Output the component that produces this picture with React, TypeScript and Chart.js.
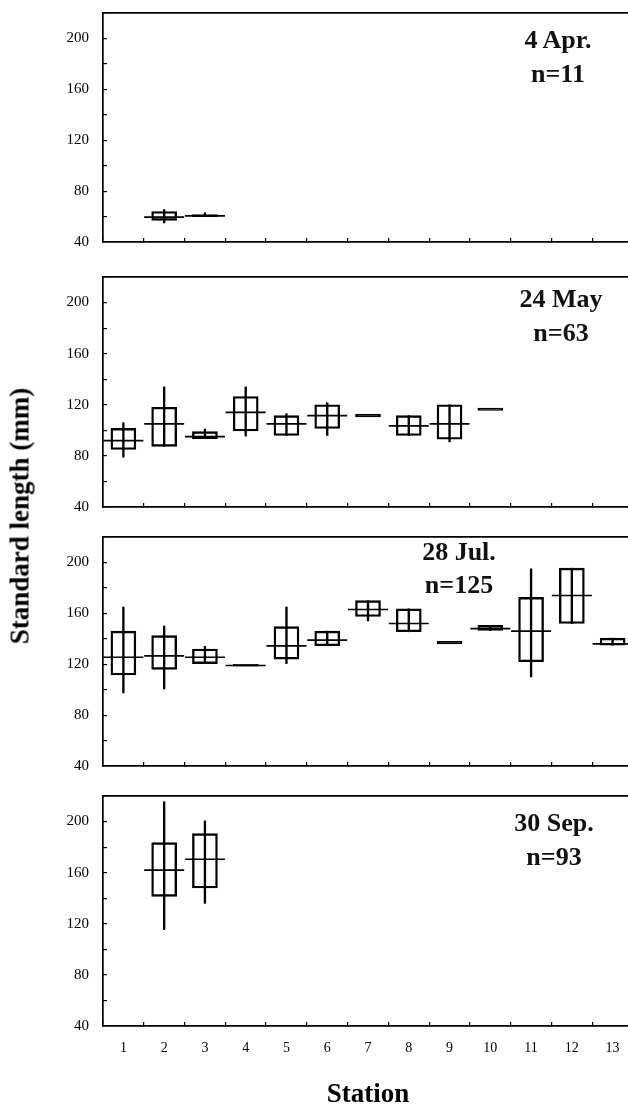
import React, { useEffect, useRef } from 'react';
import { Chart, registerables } from 'chart.js';

Chart.register(...registerables);

// ---------- data ----------
const stations = ['1', '2', '3', '4', '5', '6', '7', '8', '9', '10', '11', '12', '13'];
const _ = null;

// 4 Apr.
const aprMin = [_, 55, 60, _, _, _, _, _, _, _, _, _, _];
const aprQ1 = [_, 57, 60, _, _, _, _, _, _, _, _, _, _];
const aprMed = [_, 59.5, 60.5, _, _, _, _, _, _, _, _, _, _];
const aprQ3 = [_, 64, 61.5, _, _, _, _, _, _, _, _, _, _];
const aprMax = [_, 65.5, 63, _, _, _, _, _, _, _, _, _, _];

// 24 May
const mayMin = [79, 87.5, 93.5, 95.5, 96, 96, _, 96, 91, _, _, _, _];
const mayQ1 = [85, 87.5, 93.5, 99.5, 96, 101.5, 110.5, 96, 93, 115.5, _, _, _];
const mayMed = [92, 105, 95, 114, 105, 111.5, _, 103.5, 105, _, _, _, _];
const mayQ3 = [101.5, 118, 99, 126.5, 111.5, 120, 112.5, 111.5, 120, 117.5, _, _, _];
const mayMax = [106, 134, 101, 134, 113, 121.5, _, 111.5, 120, _, _, _, _];

// 28 Jul.
const julMin = [97.5, 100.5, 120.5, _, 120.5, 134.5, 154, 145.5, _, 146.5, 110, 152, 135];
const julQ1 = [111.5, 116, 120.5, 118.5, 124, 134.5, 157.5, 145.5, 136, 146.5, 122, 152, 135];
const julMed = [125.5, 126.5, 125.5, 119, 134.5, 139, 163, 152, _, 148, 146, 174, 136];
const julQ3 = [146, 142.5, 132, 120, 149.5, 146, 170, 163.5, 138, 150.5, 172.5, 195.5, 140.5];
const julMax = [165, 150, 134, _, 165, 146, 170, 163.5, _, 150.5, 195, 195.5, 140.5];

// 30 Sep.
const sepMin = [_, 115.5, 136, _, _, _, _, _, _, _, _, _, _];
const sepQ1 = [_, 141.5, 148, _, _, _, _, _, _, _, _, _, _];
const sepMed = [_, 162, 170.5, _, _, _, _, _, _, _, _, _, _];
const sepQ3 = [_, 183.5, 190.5, _, _, _, _, _, _, _, _, _, _];
const sepMax = [_, 215.5, 200.5, _, _, _, _, _, _, _, _, _, _];

const dates = ['4 Apr.', '24 May', '28 Jul.', '30 Sep.'];
const counts = ['n=11', 'n=63', 'n=125', 'n=93'];

const yMin = 40;
const yMax = 220;
const yStep = 20;
const yLabelStep = 40;
const yLabelMax = 200;

const xTitle = 'Station';
const yTitle = 'Standard length (mm)';

type Series = { min: (number | null)[]; q1: (number | null)[]; med: (number | null)[]; q3: (number | null)[]; max: (number | null)[] };

const panels: Series[] = [
  { min: aprMin, q1: aprQ1, med: aprMed, q3: aprQ3, max: aprMax },
  { min: mayMin, q1: mayQ1, med: mayMed, q3: mayQ3, max: mayMax },
  { min: julMin, q1: julQ1, med: julMed, q3: julQ3, max: julMax },
  { min: sepMin, q1: sepQ1, med: sepMed, q3: sepQ3, max: sepMax },
];

// ---------- layout ----------
const PANEL_TOP = [13, 277, 537, 796];
const PANEL_H = [229, 230, 229, 230];
const PAD_TOP = 13;
const CANVAS_W = 640;
const AXIS_LEFT = 103;
const LAST_AXIS_H = 83;
const LABEL_POS = [
  [558, 40, 74],
  [561, 299, 333],
  [459, 552, 585],
  [554, 823, 857],
];
const THIN_BOX = 2.5; // boxes thinner than this are drawn as a solid bar

const SERIF = '"Liberation Serif", "Times New Roman", serif';

function makeConfig(p: Series, isLast: boolean): any {
  const boxData = p.q1.map((v, i) => (v == null ? null : [v, p.q3[i]]));
  const whiskerData = p.min.map((v, i) => (v == null ? null : [v, p.max[i]]));
  return {
    type: 'bar',
    data: {
      labels: stations,
      datasets: [
        {
          type: 'line',
          data: p.med,
          showLine: false,
          pointStyle: 'line',
          pointRadius: 20,
          pointHoverRadius: 20,
          pointBorderWidth: 1.7,
          pointBorderColor: '#000',
          borderColor: '#000',
          backgroundColor: '#000',
          clip: false,
          order: 0,
        },
        {
          type: 'bar',
          data: boxData,
          backgroundColor: (ctx: any) => {
            const r = ctx.raw;
            return r && Math.abs(r[1] - r[0]) < THIN_BOX ? '#000' : 'rgba(0,0,0,0)';
          },
          borderColor: '#000',
          borderWidth: 1.7,
          borderSkipped: false,
          barThickness: 25,
          grouped: false,
          order: 1,
        },
        {
          type: 'bar',
          data: whiskerData,
          backgroundColor: '#000',
          borderWidth: 0,
          barThickness: 1.7,
          grouped: false,
          order: 2,
        },
      ],
    },
    options: {
      responsive: false,
      animation: false,
      devicePixelRatio: 1,
      events: [],
      layout: { autoPadding: false, padding: { top: PAD_TOP, right: 7, left: 0, bottom: 0 } },
      plugins: { legend: { display: false }, tooltip: { enabled: false } },
      scales: {
        x: {
          type: 'category',
          position: 'bottom',
          offset: true,
          grid: {
            display: true,
            drawOnChartArea: false,
            drawTicks: true,
            tickLength: -4,
            color: '#000',
            lineWidth: 1.2,
            offset: true,
          },
          border: { display: true, color: '#000', width: 1.7 },
          ticks: {
            display: isLast,
            color: '#000',
            font: { family: SERIF, size: 14 },
            padding: 18,
            maxRotation: 0,
            autoSkip: false,
          },
          title: {
            display: isLast,
            text: xTitle,
            color: '#000',
            font: { family: SERIF, size: 27, weight: 'bold', lineHeight: 1 },
            padding: { top: 0, bottom: 0 },
          },
          afterFit: (s: any) => {
            s.height = isLast ? LAST_AXIS_H : 10;
            s.paddingLeft = 0;
            s.paddingRight = 0;
          },
        },
        xTop: {
          type: 'category',
          position: 'top',
          offset: true,
          grid: { display: false, drawTicks: false },
          border: { display: true, color: '#000', width: 1.7 },
          ticks: { display: false },
          afterFit: (s: any) => {
            s.height = 0;
            s.paddingLeft = 0;
            s.paddingRight = 0;
          },
        },
        y: {
          type: 'linear',
          position: 'left',
          min: yMin,
          max: yMax,
          grid: {
            drawOnChartArea: false,
            drawTicks: true,
            tickLength: -4,
            color: '#000',
            lineWidth: 1.2,
          },
          border: { display: true, color: '#000', width: 1.7 },
          ticks: {
            stepSize: yStep,
            padding: 18,
            color: '#000',
            font: { family: SERIF, size: 15 },
            callback: (v: number) => (v % yLabelStep === 0 && v <= yLabelMax ? String(v) : ''),
          },
          afterFit: (s: any) => {
            s.width = AXIS_LEFT;
            s.paddingTop = 0;
            s.paddingBottom = 0;
          },
        },
      },
    },
  };
}

function Panel({ index }: { index: number }) {
  const ref = useRef<HTMLCanvasElement>(null);
  const isLast = index === panels.length - 1;
  const h = PAD_TOP + PANEL_H[index] + (isLast ? LAST_AXIS_H : 10);
  useEffect(() => {
    const chart = new Chart(ref.current as HTMLCanvasElement, makeConfig(panels[index], isLast));
    return () => chart.destroy();
  }, [index, isLast]);
  return (
    <canvas
      ref={ref}
      width={CANVAS_W}
      height={h}
      style={{ position: 'absolute', left: 0, top: PANEL_TOP[index] - PAD_TOP, width: CANVAS_W, height: h }}
    />
  );
}

const annoStyle = (x: number, y: number): React.CSSProperties => ({
  position: 'absolute',
  left: x,
  top: y,
  transform: 'translate(-50%, -50%)',
  font: `bold 26px ${SERIF}`,
  lineHeight: 1,
  whiteSpace: 'nowrap',
  color: '#111',
});

export default function App() {
  return (
    <div
      style={{
        position: 'absolute',
        left: 0,
        top: 0,
        width: 628,
        height: 1109,
        overflow: 'hidden',
        background: '#fff',
      }}
    >
      {panels.map((_p, i) => (
        <Panel key={i} index={i} />
      ))}
      {dates.map((d, i) => (
        <React.Fragment key={d}>
          <div style={annoStyle(LABEL_POS[i][0], LABEL_POS[i][1])}>{d}</div>
          <div style={annoStyle(LABEL_POS[i][0], LABEL_POS[i][2])}>{counts[i]}</div>
        </React.Fragment>
      ))}
      <div
        style={{
          position: 'absolute',
          left: 20,
          top: 516,
          transform: 'translate(-50%, -50%) rotate(-90deg)',
          font: `bold 27px ${SERIF}`,
          lineHeight: 1,
          whiteSpace: 'nowrap',
          color: '#000',
        }}
      >
        {yTitle}
      </div>
    </div>
  );
}
